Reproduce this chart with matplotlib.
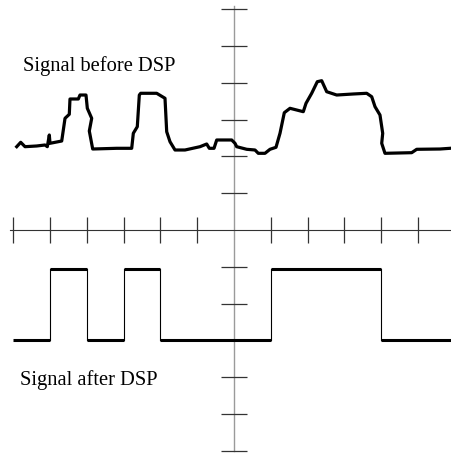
import numpy as np
import matplotlib
from matplotlib import pyplot as plt

matplotlib.use("Agg")

# ─── data (grid units, origin at the crossing of the axes) ──────────
before_x = [-5.905, -5.796, -5.679, -5.361, -5.136, -5.073, -5.019, -5.0,
            -4.682, -4.592, -4.476, -4.457, -4.231, -4.185, -4.022, -3.986,
            -3.867, -3.932, -3.840, -3.188, -2.780, -2.736, -2.628, -2.573,
            -2.535, -2.101, -1.875, -1.829, -1.739, -1.603, -1.332, -0.924,
            -0.742, -0.671, -0.543, -0.470, -0.0625, 0.027, 0.073, 0.345,
            0.571, 0.660, 0.842, 0.978, 1.141, 1.250, 1.367, 1.522, 1.883,
            1.957, 2.111, 2.264, 2.383, 2.519, 2.791, 3.242, 3.606, 3.742,
            3.832, 3.967, 4.041, 4.014, 4.103, 4.829, 4.965, 5.598, 5.870]
before_y = [2.264, 2.383, 2.264, 2.283, 2.310, 2.264, 2.582, 2.356,
            2.418, 3.035, 3.144, 3.560, 3.560, 3.668, 3.668, 3.307,
            3.035, 2.690, 2.201, 2.220, 2.220, 2.628, 2.807, 3.668,
            3.715, 3.715, 3.579, 2.671, 2.399, 2.174, 2.174, 2.264,
            2.337, 2.220, 2.220, 2.446, 2.446, 2.356, 2.264, 2.193,
            2.174, 2.084, 2.084, 2.193, 2.247, 2.628, 3.188, 3.307, 3.215,
            3.443, 3.715, 4.030, 4.057, 3.758, 3.668, 3.696, 3.715, 3.622,
            3.351, 3.125, 2.628, 2.356, 2.084, 2.101, 2.193, 2.201, 2.220]

after_edges = [-6.0, -5.0, -4.0, -3.0, -2.0, 1.0, 4.0, 5.9]
after_levels = [-3.0, -1.05, -3.0, -1.05, -3.0, -1.05, -3.0]

y_ticks = [-6, -5, -4, -3, -2, -1, 1, 2, 3, 4, 5, 6]
x_ticks = [-6, -5, -4, -3, -2, -1, 1, 2, 3, 4, 5]

label_before = "Signal before DSP"
label_after = "Signal after DSP"

# ─── figure ─────────────────────────────────────────────────────────
fig = plt.figure(figsize=(4.51, 4.55), dpi=100)
ax = fig.add_axes([0, 0, 1, 1])
ax.set_xlim(-6.359, 5.897)
ax.set_ylim(-6.114, 6.25)
ax.axis("off")

# axes cross
ax.plot([0, 0], [6.1, -6.0], color="#9a9a9a", lw=1.0, zorder=1)
ax.plot([-6.1, 5.9], [0, 0], color="#333333", lw=0.8, zorder=1)

ax.hlines(y_ticks, -0.345, 0.345, color="#333333", lw=0.9, zorder=2)
ax.vlines(x_ticks, -0.36, 0.36, color="#333333", lw=0.9, zorder=2)

# signal before DSP
ax.plot(before_x, before_y, color="black", lw=2.3,
        solid_joinstyle="round", zorder=3)

# signal after DSP: thick levels, thin edges
ax.hlines(after_levels, after_edges[:-1], after_edges[1:],
          color="black", lw=2.2, zorder=3)
for i, xe in enumerate(after_edges[1:-1]):
    ax.plot([xe, xe], [after_levels[i], after_levels[i + 1]],
            color="black", lw=0.8, zorder=3)

# labels
ax.text(-5.74, 4.33, label_before, family="Liberation Serif",
        fontsize=14.8, ha="left", va="baseline")
ax.text(-5.81, -4.22, label_after, family="Liberation Serif",
        fontsize=14.8, ha="left", va="baseline")

plt.savefig("out.png", dpi=100)
